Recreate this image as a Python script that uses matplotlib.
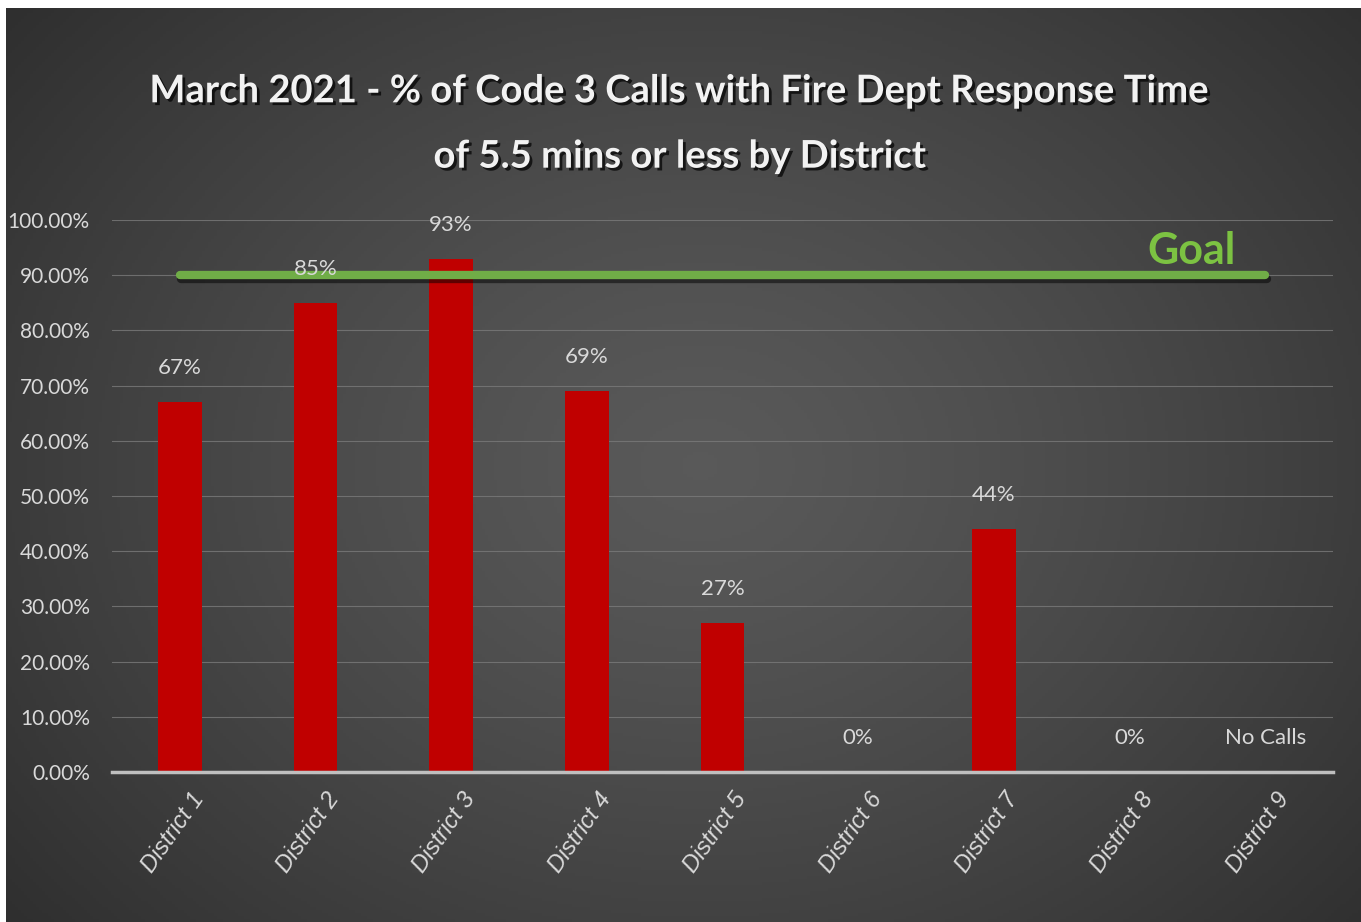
import numpy as np
import matplotlib
matplotlib.use("Agg")
import matplotlib.pyplot as plt
import matplotlib.patheffects as pe
import matplotlib.transforms as mtransforms

categories = ["District 1", "District 2", "District 3", "District 4", "District 5",
              "District 6", "District 7", "District 8", "District 9"]
values = [0.67, 0.85, 0.93, 0.69, 0.27, 0.0, 0.44, 0.0, 0.0]
labels = ["67%", "85%", "93%", "69%", "27%", "0%", "44%", "0%", "No Calls"]
goal = 0.90
yticks = [0.0, 0.1, 0.2, 0.3, 0.4, 0.5, 0.6, 0.7, 0.8, 0.9, 1.0]
title = "March 2021 - % of Code 3 Calls with Fire Dept Response Time\nof 5.5 mins or less by District"

font = "Lato"
W, H = 1361, 922
fig = plt.figure(figsize=(W / 100, H / 100), dpi=100, facecolor="white")

# background radial gradient
bg = fig.add_axes([6 / W, 0, 1 - 6 / W, (H - 8) / H], zorder=-10)
yy, xx = np.mgrid[0:300, 0:450]
cx, cy = 230, 150
r = np.sqrt(((xx - cx) / 330.0) ** 2 + ((yy - cy) / 260.0) ** 2)
r = np.clip(r, 0, 1)
c0, c1 = 0.35, 0.16
img = c0 + (c1 - c0) * r ** 1.3
bg.imshow(np.dstack([img, img, img]), aspect="auto", extent=[0, 1, 0, 1])
bg.axis("off")

ax = fig.add_axes([112 / W, (H - 772) / H, (1333 - 112) / W, (772 - 220) / H])
ax.patch.set_alpha(0)
x = np.arange(len(categories))
ax.bar(x, values, width=0.32, color="#c00000", zorder=3)
ax.set_xlim(-0.5, len(categories) - 0.5)
ax.set_ylim(0, 1.0)
ax.set_yticks(yticks)
ax.set_yticklabels([f"{v*100:.2f}%" for v in yticks], color="#d9d9d9", fontsize=15, family=font)
ax.set_xticks(x)
ax.set_xticklabels(categories, rotation=55, ha="right", rotation_mode="anchor",
                   color="#d9d9d9", fontsize=17, style="italic",
                   family=["Liberation Sans", "DejaVu Sans"])
ax.tick_params(axis="both", length=0)
ax.tick_params(axis="y", pad=16)
ax.tick_params(axis="x", pad=12)
for lbl in ax.get_xticklabels():
    lbl.set_transform(lbl.get_transform() + mtransforms.ScaledTranslation(0.1, 0, fig.dpi_scale_trans))
for s in ["top", "right", "left"]:
    ax.spines[s].set_visible(False)
ax.spines["bottom"].set_color("#bfbfbf")
ax.spines["bottom"].set_linewidth(2.5)
ax.spines["bottom"].set_zorder(5)
ax.grid(axis="y", color="#7a7a7a", linewidth=0.8, alpha=0.8, zorder=0)
ax.set_axisbelow(True)

for xi, v, lab in zip(x, values, labels):
    ax.annotate(lab, (xi, v), xytext=(0, 34), textcoords="offset pixels",
                ha="center", va="center", color="#d9d9d9", fontsize=16, family=font, zorder=6)

ax.plot([x[0], x[-1]], [goal, goal], color="#70ad47", linewidth=6, solid_capstyle="round", zorder=4,
        path_effects=[pe.SimpleLineShadow(offset=(1, -3), shadow_color="black", alpha=0.5), pe.Normal()])
ax.text(x[-2] + 0.46, goal + 0.008, "Goal", color="#7cc242", fontsize=31, fontweight="bold",
        family=font, ha="center", va="bottom", zorder=6, clip_on=False)

fig.text(680 / W, 1 - 124 / H, title, ha="center", va="center", color="#f2f2f2", fontsize=27.5,
         fontweight="bold", family=font, linespacing=2.12,
         path_effects=[pe.withSimplePatchShadow(offset=(2, -2), shadow_rgbFace="black", alpha=0.7)])

fig.savefig("out.png", dpi=100, facecolor="white")
